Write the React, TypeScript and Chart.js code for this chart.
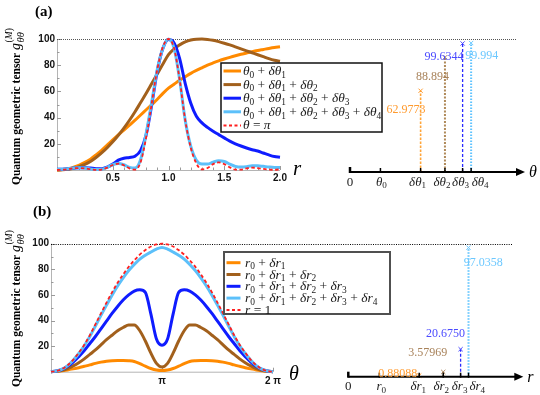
import { useEffect, useRef } from 'react';
import { Chart, registerables } from 'chart.js';

Chart.register(...registerables);

const SERIF = '"Liberation Serif", "Times New Roman", serif';
const SANS = '"Liberation Sans", Arial, sans-serif';
const W = 540;
const H = 395;

// ---------------- Panel (a): g vs r ----------------
const rValues = [0, 0.05, 0.1, 0.15, 0.2, 0.25, 0.3, 0.35, 0.4, 0.45, 0.5, 0.55, 0.6, 0.65, 0.7, 0.75, 0.8, 0.85, 0.9, 0.95, 1, 1.05, 1.1, 1.15, 1.2, 1.25, 1.3, 1.35, 1.4, 1.45, 1.5, 1.55, 1.6, 1.65, 1.7, 1.75, 1.8, 1.85, 1.9, 1.95, 2];
const aTheta1 = [0, 0.3, 1, 2.2, 3.8, 5.8, 8.3, 11.5, 15, 19, 23, 26.8, 30.5, 34.3, 38, 42, 46, 50, 54, 58.5, 62.5, 65.5, 68.5, 71.2, 73.8, 76, 78, 80, 81.7, 83.3, 84.7, 86, 87.2, 88.3, 89.3, 90.3, 91.2, 92, 92.8, 93.5, 94];
const aTheta2 = [0, 0.1, 0.5, 1.3, 2.6, 4.3, 6.5, 9.5, 13, 17, 21.5, 26.5, 32, 38, 44.5, 51.5, 58.5, 66, 73.5, 81, 88, 92.5, 95.5, 97.8, 99.2, 99.9, 100, 99.7, 99, 98, 96.8, 95.5, 94, 92.5, 91, 89.5, 88, 86.5, 85, 83.8, 83];
const aTheta3 = [0.5, 0.6, 1, 1.5, 1.8, 1.8, 1.5, 1, 1, 2.2, 4.5, 7.5, 9, 9.5, 10.5, 15, 27, 50, 76, 93, 99.6, 97, 85, 66, 51, 41, 36, 32.5, 29.5, 27, 24.5, 22, 20, 18.3, 16.8, 15.5, 14.5, 13, 11.5, 10.3, 9.8];
const aTheta4 = [0.5, 0.6, 1, 1.6, 1.8, 1.5, 0.8, 0.3, 0.5, 2, 4, 5, 4, 2, 1.5, 8, 28, 52, 77, 93, 100, 93, 69, 38, 18, 7.5, 4.5, 4.5, 6, 7, 6.5, 4.5, 2.8, 2.2, 2.5, 3.2, 3.2, 2.8, 2.3, 2, 2];
const aThetaPi = [0, 0.2, 0.7, 1.3, 1.5, 1.2, 0.6, 0.1, 0.3, 1.8, 3.8, 4.8, 3.6, 1.3, 0.3, 6, 25, 51, 77, 94, 100, 93, 69, 38, 17, 5, 0.5, 1.5, 4.5, 5.8, 4.5, 2, 0.3, 0.3, 1.2, 1.8, 1.5, 0.8, 0.3, 0.2, 0.5];
const aSeriesLabels = ['θ_0 + δθ_1', 'θ_0 + δθ_1 + δθ_2', 'θ_0 + δθ_1 + δθ_2 + δθ_3', 'θ_0 + δθ_1 + δθ_2 + δθ_3 + δθ_4', 'θ = π'];
const aXTicks = [0.5, 1, 1.5, 2];
const aXTickLabels = ['0.5', '1.0', '1.5', '2.0'];

const aSchemPos = [0, 1, 2.32, 3.12, 3.7, 3.98];
const aSchemTickLabels = ['0', 'θ_0', 'δθ_1', 'δθ_2', 'δθ_3', 'δθ_4'];
const aSchemValues = [62.9773, 88.894, 99.6344, 99.994];
const aSchemValueText = ['62.9773', '88.894', '99.6344', '99.994'];

// ---------------- Panel (b): g vs θ (in units of π) ----------------
const thetaOverPi = [0, 0.05, 0.1, 0.15, 0.2, 0.25, 0.3, 0.35, 0.4, 0.45, 0.5, 0.55, 0.6, 0.65, 0.7, 0.75, 0.8, 0.85, 0.9, 0.95, 1, 1.05, 1.1, 1.15, 1.2, 1.25, 1.3, 1.35, 1.4, 1.45, 1.5, 1.55, 1.6, 1.65, 1.7, 1.75, 1.8, 1.85, 1.9, 1.95, 2];
const bR1 = [0, 0.3, 0.8, 1.4, 2.2, 3.1, 4.2, 5.3, 6.5, 7.5, 8.2, 8.6, 8.8, 8.8, 8.6, 8, 6.3, 4.3, 2.5, 1.3, 0.9, 1.3, 2.5, 4.3, 6.3, 8, 8.6, 8.8, 8.8, 8.6, 8.2, 7.5, 6.5, 5.3, 4.2, 3.1, 2.2, 1.4, 0.8, 0.3, 0];
const bR2 = [0, 0.3, 1, 2.5, 4.5, 7, 10, 13.5, 17, 21, 25, 28.5, 32, 34.5, 36.5, 36.5, 32, 24, 14.5, 6.5, 3.6, 6.5, 14.5, 24, 32, 36.5, 36.5, 34.5, 32, 28.5, 25, 21, 17, 13.5, 10, 7, 4.5, 2.5, 1, 0.3, 0];
const bR3 = [0, 0.5, 1.8, 4.2, 7.5, 11.8, 16.5, 22, 27.5, 33.5, 39.5, 45.5, 51, 56, 60, 63, 64, 62, 45, 25.5, 20.7, 25.5, 45, 62, 64, 63, 60, 56, 51, 45.5, 39.5, 33.5, 27.5, 22, 16.5, 11.8, 7.5, 4.2, 1.8, 0.5, 0];
const bR4 = [0, 0.5, 2, 4.8, 9, 14.2, 20.3, 27.5, 35.7, 44, 52, 59.8, 67, 73.3, 79, 83.8, 88, 91, 93.5, 95.8, 97, 95.8, 93.5, 91, 88, 83.8, 79, 73.3, 67, 59.8, 52, 44, 35.7, 27.5, 20.3, 14.2, 9, 4.8, 2, 0.5, 0];
const bRone = [0, 0.5, 2.1, 5, 9.3, 14.8, 21, 28.5, 37, 45.5, 54, 62, 69.5, 76, 82, 87, 91.5, 95, 97.8, 99.4, 100, 99.4, 97.8, 95, 91.5, 87, 82, 76, 69.5, 62, 54, 45.5, 37, 28.5, 21, 14.8, 9.3, 5, 2.1, 0.5, 0];
const bSeriesLabels = ['r_0 + δr_1', 'r_0 + δr_1 + δr_2', 'r_0 + δr_1 + δr_2 + δr_3', 'r_0 + δr_1 + δr_2 + δr_3 + δr_4', 'r = 1'];
const bXTicks = [1, 2];
const bXTickLabels = ['π', '2 π'];

const bSchemPos = [0, 1.02, 2.33, 3.12, 3.69, 3.95];
const bSchemTickLabels = ['0', 'r_0', 'δr_1', 'δr_2', 'δr_3', 'δr_4'];
const bSchemValues = [0.88088, 3.57969, 20.675, 97.0358];
const bSchemValueText = ['0.88088', '3.57969', '20.6750', '97.0358'];

const yTicks = [20, 40, 60, 80, 100];

// ---------------- styles ----------------
const LINE_COLORS = ['#ff8a00', '#a2601c', '#0f1cff', '#5cc0fa', '#ff1f1f'];
const SCHEM_LINE = ['#ffa53a', '#b08a5a', '#2b2bff', '#5ec3ff'];
const SCHEM_TEXT = ['#ff9a2e', '#a8825a', '#4a4aff', '#6cc8ff'];
const SCHEM_DASH = [[2.5, 1.5], [2, 1.5], [3, 2], [1.5, 1.5]];
const SCHEM_WIDTH = [1.6, 2, 1.3, 2];

// ---------------- math text helper ----------------
const ITALIC_RE = /[A-Za-z\u0370-\u03ff]/;
function mathRuns(s: string) {
  const runs: { ch: string; sub: boolean }[] = [];
  for (let i = 0; i < s.length; i++) {
    if (s[i] === '_' && i + 1 < s.length) {
      runs.push({ ch: s[i + 1], sub: true });
      i++;
    } else runs.push({ ch: s[i], sub: false });
  }
  return runs;
}
function mathFont(ch: string, size: number) {
  return `${ITALIC_RE.test(ch) ? 'italic ' : ''}${size}px ${SERIF}`;
}
function drawMath(ctx: CanvasRenderingContext2D, s: string, x: number, y: number, size: number, color: string, align = 'left') {
  const runs = mathRuns(s);
  const sub = size * 0.7;
  const widths = runs.map((r) => {
    ctx.font = mathFont(r.ch, r.sub ? sub : size);
    return ctx.measureText(r.ch).width;
  });
  const total = widths.reduce((a, b) => a + b, 0);
  let cx = align === 'left' ? x : align === 'right' ? x - total : x - total / 2;
  ctx.save();
  ctx.fillStyle = color;
  ctx.textAlign = 'left';
  ctx.textBaseline = 'alphabetic';
  runs.forEach((r, i) => {
    ctx.font = mathFont(r.ch, r.sub ? sub : size);
    ctx.fillText(r.ch, cx, r.sub ? y + size * 0.2 : y);
    cx += widths[i];
  });
  ctx.restore();
  return total;
}

function drawYTitle(ctx: CanvasRenderingContext2D, x: number, yBottom: number) {
  ctx.save();
  ctx.translate(x, yBottom);
  ctx.rotate(-Math.PI / 2);
  ctx.fillStyle = '#000';
  ctx.textAlign = 'left';
  ctx.textBaseline = 'alphabetic';
  ctx.font = `bold 11.5px ${SERIF}`;
  const t = 'Quantum geometric tensor ';
  ctx.fillText(t, 0, 0);
  let cx = ctx.measureText(t).width;
  ctx.font = `italic 14px ${SERIF}`;
  ctx.fillText('g', cx, 0);
  cx += ctx.measureText('g').width + 0.5;
  ctx.font = `italic 10.5px ${SERIF}`;
  ctx.fillText('θθ', cx, 3.5);
  ctx.font = `9.5px ${SERIF}`;
  ctx.fillText('(', cx, -8);
  let sx = cx + ctx.measureText('(').width;
  ctx.font = `italic 9.5px ${SERIF}`;
  ctx.fillText('M', sx, -8);
  sx += ctx.measureText('M').width;
  ctx.font = `9.5px ${SERIF}`;
  ctx.fillText(')', sx, -8);
  ctx.restore();
}

// ---------------- main plot config ----------------
function mainConfig(p: any) {
  const datasets = p.series.map((ys: number[], i: number) => ({
    label: p.labels[i],
    data: ys.map((y, j) => ({ x: p.xs[j], y })),
    borderColor: LINE_COLORS[i],
    borderWidth: i === 4 ? 1.8 : 3,
    borderDash: i === 4 ? [3.5, 2.5] : [],
    pointRadius: 0,
    cubicInterpolationMode: 'monotone',
    fill: false,
    order: 4 - i,
    clip: false,
  }));
  const a = p.area;
  const plugin = {
    id: 'mainDecor',
    beforeDatasetsDraw(chart: any) {
      const { ctx, chartArea, scales } = chart;
      const { x, y } = scales;
      ctx.save();
      ctx.strokeStyle = '#b4b4b4';
      ctx.lineWidth = 1;
      ctx.beginPath();
      ctx.moveTo(chartArea.left + 0.5, chartArea.top);
      ctx.lineTo(chartArea.left + 0.5, chartArea.bottom);
      ctx.moveTo(chartArea.left, chartArea.bottom + 0.5);
      ctx.lineTo(chartArea.right, chartArea.bottom + 0.5);
      ctx.stroke();
      ctx.strokeStyle = '#9a9a9a';
      ctx.beginPath();
      for (let k = 1; k <= 10; k++) {
        const py = Math.round(y.getPixelForValue(k * 10)) + 0.5;
        const len = k % 2 === 0 ? 4 : 2.5;
        ctx.moveTo(chartArea.left, py);
        ctx.lineTo(chartArea.left + len, py);
      }
      const nx = Math.round((p.xMax - p.xMin) / p.xMinor);
      for (let k = 1; k <= nx; k++) {
        const v = p.xMin + k * p.xMinor;
        const px = Math.round(x.getPixelForValue(v)) + 0.5;
        const major = Math.abs(v / p.xMajor - Math.round(v / p.xMajor)) < 1e-6;
        const len = major ? 4 : 2.5;
        ctx.moveTo(px, chartArea.bottom);
        ctx.lineTo(px, chartArea.bottom - len);
      }
      ctx.stroke();
      const yy = Math.round(y.getPixelForValue(100)) + 0.5;
      ctx.strokeStyle = p.refColor;
      ctx.setLineDash(p.refDash);
      ctx.beginPath();
      ctx.moveTo(chartArea.left, yy);
      ctx.lineTo(p.refEnd, yy);
      ctx.stroke();
      ctx.restore();
    },
    afterDatasetsDraw(chart: any) {
      const { ctx, chartArea, scales } = chart;
      const { x } = scales;
      // x tick labels
      ctx.save();
      ctx.fillStyle = '#111';
      ctx.font = `bold 10px ${SANS}`;
      ctx.textAlign = 'center';
      ctx.textBaseline = 'middle';
      p.xTicks.forEach((v: number, i: number) => {
        ctx.fillText(p.xTickLabels[i], x.getPixelForValue(v), chartArea.bottom + p.xLabelDy);
      });
      // legend
      const L = p.legend;
      ctx.fillStyle = '#fff';
      ctx.fillRect(L.x, L.y, L.w, L.h);
      ctx.strokeStyle = L.border;
      ctx.lineWidth = L.bw;
      ctx.strokeRect(L.x, L.y, L.w, L.h);
      chart.data.datasets.forEach((ds: any, i: number) => {
        const yy = L.row0 + i * L.rowH;
        ctx.strokeStyle = ds.borderColor;
        ctx.lineWidth = i === 4 ? 2 : 3;
        ctx.setLineDash(i === 4 ? [3, 2.5] : []);
        ctx.beginPath();
        ctx.moveTo(L.s0, yy);
        ctx.lineTo(L.s1, yy);
        ctx.stroke();
        ctx.setLineDash([]);
        drawMath(ctx, ds.label, L.tx, yy + L.size * 0.3, L.size, '#1a1a1a', 'left');
      });
      ctx.fillStyle = '#000';
      ctx.font = `bold 15px ${SERIF}`;
      ctx.textAlign = 'left';
      ctx.textBaseline = 'alphabetic';
      ctx.fillText(p.panel.text, p.panel.x, p.panel.y);
      ctx.restore();
      drawYTitle(ctx, p.yTitle.x, p.yTitle.y);
      drawMath(ctx, p.xTitle.text, p.xTitle.x, p.xTitle.y, p.xTitle.size, '#000', 'left');
    },
  };
  return {
    type: 'line',
    data: { datasets },
    options: {
      animation: false,
      responsive: false,
      devicePixelRatio: 1,
      events: [],
      layout: { padding: { left: 0, top: a.top, right: W - a.right, bottom: H - a.bottom - 20 } },
      plugins: { legend: { display: false }, tooltip: { enabled: false } },
      scales: {
        x: {
          type: 'linear',
          min: p.xMin,
          max: p.xMax,
          afterFit: (s: any) => { s.height = 20; },
          ticks: { display: false },
          grid: { display: false, drawTicks: false },
          border: { display: false },
        },
        y: {
          min: 0,
          max: 100,
          afterFit: (s: any) => { s.width = a.left; },
          afterBuildTicks: (s: any) => { s.ticks = yTicks.map((v) => ({ value: v })); },
          ticks: {
            callback: (_v: any, i: number) => String(yTicks[i]),
            font: { family: SANS, weight: 'bold', size: 10 },
            color: '#111',
            padding: 2,
          },
          grid: { display: false, drawTicks: false },
          border: { display: false },
        },
      },
    },
    plugins: [plugin],
  } as any;
}

// ---------------- schematic config ----------------
function schemConfig(s: any) {
  const datasets = s.values.map((v: number, i: number) => ({
    data: [
      { x: s.pos[i + 2], y: 0 },
      { x: s.pos[i + 2], y: v },
    ],
    borderColor: SCHEM_LINE[i],
    borderWidth: SCHEM_WIDTH[i],
    borderDash: SCHEM_DASH[i],
    pointRadius: (c: any) => (c.dataIndex === 1 ? 3 : 0),
    pointStyle: 'crossRot',
    pointBorderColor: SCHEM_TEXT[i],
    pointBorderWidth: 1,
    clip: false,
  }));
  const a = s.area;
  const plugin = {
    id: 'schemDecor',
    afterDatasetsDraw(chart: any) {
      const { ctx, chartArea, scales } = chart;
      const { x, y } = scales;
      const y0 = y.getPixelForValue(0);
      const x0 = x.getPixelForValue(s.pos[0]);
      const tip = chartArea.right;
      ctx.save();
      ctx.strokeStyle = '#000';
      ctx.fillStyle = '#000';
      ctx.lineWidth = 2;
      ctx.beginPath();
      ctx.moveTo(x0, y0);
      ctx.lineTo(tip - 6, y0);
      ctx.stroke();
      ctx.beginPath();
      ctx.moveTo(tip, y0);
      ctx.lineTo(tip - 9, y0 - 4);
      ctx.lineTo(tip - 9, y0 + 4);
      ctx.closePath();
      ctx.fill();
      s.pos.forEach((v: number, i: number) => {
        const px = x.getPixelForValue(v);
        ctx.lineWidth = i === 0 ? 2.5 : 1.5;
        ctx.beginPath();
        ctx.moveTo(px, y0 + 1);
        ctx.lineTo(px, y0 - (i === 0 ? 5 : 4));
        ctx.stroke();
        const ls = s.tickLabelStyle[i];
        drawMath(ctx, s.tickLabels[i], px + ls.dx, y0 + s.labelDy, 13, '#222', ls.align);
      });
      drawMath(ctx, s.axisTitle, tip + 4, y0 + 5, 16, '#000', 'left');
      chart.data.datasets.forEach((_ds: any, i: number) => {
        const pt = chart.getDatasetMeta(i).data[1];
        const st = s.valueStyle[i];
        ctx.font = `12px ${SERIF}`;
        ctx.fillStyle = SCHEM_TEXT[i];
        ctx.textAlign = st.align;
        ctx.textBaseline = 'middle';
        ctx.fillText(s.valueText[i], pt.x + st.dx, pt.y + st.dy);
      });
      ctx.restore();
    },
  };
  return {
    type: 'line',
    data: { datasets },
    options: {
      animation: false,
      responsive: false,
      devicePixelRatio: 1,
      events: [],
      layout: { padding: { left: a.left, top: a.top, right: W - a.right, bottom: H - a.bottom } },
      plugins: { legend: { display: false }, tooltip: { enabled: false } },
      scales: {
        x: { type: 'linear', min: 0, max: s.xMax, display: false },
        y: { min: 0, max: 100, display: false },
      },
    },
    plugins: [plugin],
  } as any;
}

const panelA = {
  xs: rValues,
  series: [aTheta1, aTheta2, aTheta3, aTheta4, aThetaPi],
  labels: aSeriesLabels,
  xMin: 0,
  xMax: 2,
  xTicks: aXTicks,
  xTickLabels: aXTickLabels,
  xLabelDy: 8,
  xMinor: 0.1,
  xMajor: 0.5,
  area: { left: 57, right: 280, top: 39, bottom: 170 },
  refColor: '#555',
  refDash: [1, 1],
  refEnd: 517,
  legend: { x: 221, y: 63, w: 161, h: 69, row0: 71, rowH: 13.6, s0: 223.5, s1: 241, tx: 243, size: 13.4, border: '#111', bw: 1.5 },
  panel: { text: '(a)', x: 35, y: 16 },
  yTitle: { x: 20, y: 185 },
  xTitle: { text: 'r', x: 293, y: 175, size: 21 },
};

const panelB = {
  xs: thetaOverPi,
  series: [bR1, bR2, bR3, bR4, bRone],
  labels: bSeriesLabels,
  xMin: 0,
  xMax: 2,
  xTicks: bXTicks,
  xTickLabels: bXTickLabels,
  xLabelDy: 9.5,
  xMinor: 1,
  xMajor: 1,
  area: { left: 51, right: 273, top: 243.7, bottom: 371.7 },
  refColor: '#000',
  refDash: [1, 1.3],
  refEnd: 513,
  legend: { x: 224, y: 252, w: 166, h: 62, row0: 262.7, rowH: 11.8, s0: 226.5, s1: 240.5, tx: 245, size: 13.5, border: '#505050', bw: 2 },
  panel: { text: '(b)', x: 33, y: 216 },
  yTitle: { x: 20, y: 387 },
  xTitle: { text: 'θ', x: 289, y: 380, size: 20 },
};

const schemA = {
  pos: aSchemPos,
  tickLabels: aSchemTickLabels,
  tickLabelStyle: [
    { dx: 0, align: 'center' },
    { dx: 1, align: 'center' },
    { dx: -3, align: 'center' },
    { dx: -3, align: 'center' },
    { dx: -2, align: 'center' },
    { dx: 0.5, align: 'left' },
  ],
  values: aSchemValues,
  valueText: aSchemValueText,
  xMax: 5.75,
  area: { left: 350, right: 525, top: 43, bottom: 172 },
  labelDy: 13.5,
  axisTitle: 'θ',
  valueStyle: [
    { dx: 5, dy: 19, align: 'right' },
    { dx: 4, dy: 20, align: 'right' },
    { dx: 1, dy: 13, align: 'right' },
    { dx: -6, dy: 13, align: 'left' },
  ],
};

const schemB = {
  pos: bSchemPos,
  tickLabels: bSchemTickLabels,
  tickLabelStyle: [
    { dx: 0, align: 'center' },
    { dx: 2, align: 'center' },
    { dx: -1, align: 'center' },
    { dx: -2, align: 'center' },
    { dx: -1, align: 'center' },
    { dx: 1, align: 'left' },
  ],
  values: bSchemValues,
  valueText: bSchemValueText,
  xMax: 5.75,
  area: { left: 348.3, right: 523.3, top: 243.7, bottom: 376.7 },
  labelDy: 13.5,
  axisTitle: 'r',
  valueStyle: [
    { dx: -2, dy: -2, align: 'right' },
    { dx: 4, dy: -19, align: 'right' },
    { dx: 4.3, dy: -15, align: 'right' },
    { dx: -4.7, dy: 15.6, align: 'left' },
  ],
};

export default function App() {
  const c1 = useRef<HTMLCanvasElement>(null);
  const c2 = useRef<HTMLCanvasElement>(null);
  const c3 = useRef<HTMLCanvasElement>(null);
  const c4 = useRef<HTMLCanvasElement>(null);

  useEffect(() => {
    const charts = [
      new Chart(c1.current as HTMLCanvasElement, mainConfig(panelA)),
      new Chart(c2.current as HTMLCanvasElement, schemConfig(schemA)),
      new Chart(c3.current as HTMLCanvasElement, mainConfig(panelB)),
      new Chart(c4.current as HTMLCanvasElement, schemConfig(schemB)),
    ];
    return () => charts.forEach((c) => c.destroy());
  }, []);

  const cs: any = { position: 'absolute', left: 0, top: 0, width: W, height: H };
  return (
    <div style={{ position: 'fixed', left: 0, top: 0, width: W, height: H, background: '#fff' }}>
      <canvas ref={c1} width={W} height={H} style={cs} />
      <canvas ref={c3} width={W} height={H} style={cs} />
      <canvas ref={c2} width={W} height={H} style={cs} />
      <canvas ref={c4} width={W} height={H} style={cs} />
    </div>
  );
}
